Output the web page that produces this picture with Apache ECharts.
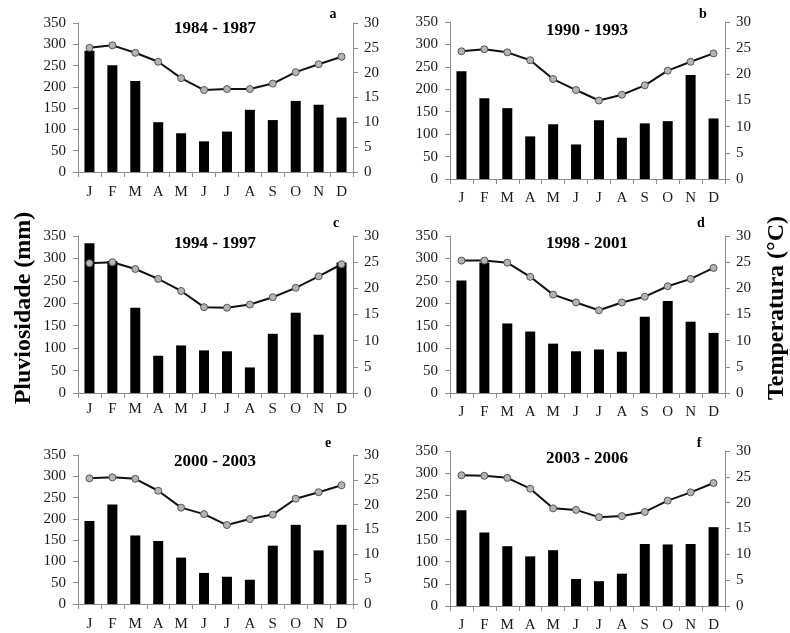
<!DOCTYPE html>
<html>
<head>
<meta charset="utf-8">
<script src="https://cdn.jsdelivr.net/npm/echarts@6/dist/echarts.min.js"></script>
<style>
  html, body { margin: 0; padding: 0; background: #fff; }
  #chart { width: 790px; height: 633px; }
</style>
</head>
<body>
<div id="chart"></div>
<script>
// Monthly rainfall (bars, mm) and mean temperature (line, °C) for six periods
const months = ['J', 'F', 'M', 'A', 'M', 'J', 'J', 'A', 'S', 'O', 'N', 'D'];
const periods = ['1984 - 1987', '1990 - 1993', '1994 - 1997', '1998 - 2001', '2000 - 2003', '2003 - 2006'];
const panelLetters = ['a', 'b', 'c', 'd', 'e', 'f'];

const rain1984 = [285, 251, 214, 117, 91, 72, 95, 146, 122, 167, 158, 128];
const temp1984 = [25.0, 25.5, 24.0, 22.2, 18.9, 16.5, 16.7, 16.7, 17.8, 20.1, 21.7, 23.2];

const rain1990 = [240, 180, 158, 95, 122, 77, 131, 92, 124, 129, 232, 135];
const temp1990 = [24.4, 24.8, 24.2, 22.7, 19.1, 17.0, 15.0, 16.1, 17.9, 20.7, 22.4, 24.0];

const rain1994 = [334, 294, 190, 83, 106, 95, 93, 57, 132, 179, 130, 291];
const temp1994 = [24.8, 25.0, 23.7, 21.8, 19.5, 16.4, 16.3, 16.9, 18.3, 20.1, 22.3, 24.6];

const rain1998 = [251, 291, 155, 137, 110, 93, 97, 92, 170, 205, 159, 134];
const temp1998 = [25.3, 25.3, 24.9, 22.2, 18.8, 17.3, 15.8, 17.3, 18.4, 20.4, 21.8, 23.9];

const rain2000 = [195, 234, 161, 148, 109, 73, 64, 57, 137, 186, 126, 186];
const temp2000 = [25.3, 25.5, 25.2, 22.8, 19.4, 18.1, 15.9, 17.1, 18.0, 21.2, 22.5, 23.9];

const rain2003 = [216, 166, 135, 112, 126, 61, 56, 73, 140, 139, 140, 178];
const temp2003 = [25.3, 25.2, 24.8, 22.7, 18.9, 18.6, 17.2, 17.4, 18.2, 20.4, 22.0, 23.8];

const rainTicks = { min: 0, max: 350, interval: 50 };
const tempTicks = { min: 0, max: 30, interval: 5 };

const rainSeries = [rain1984, rain1990, rain1994, rain1998, rain2000, rain2003];
const tempSeries = [temp1984, temp1990, temp1994, temp1998, temp2000, temp2003];

// panel frames: plot area of each small chart
const frames = [
  { left: 78,  top: 23,  width: 275, height: 149, labelGap: 13 },
  { left: 450, top: 22,  width: 275, height: 157, labelGap: 12 },
  { left: 78,  top: 236, width: 275, height: 157, labelGap: 9 },
  { left: 450, top: 236, width: 275, height: 157, labelGap: 12 },
  { left: 78,  top: 455, width: 275, height: 149, labelGap: 13 },
  { left: 450, top: 451, width: 275, height: 157, labelGap: 12 }
];
const titlePos = [[215, 29], [587, 31], [215, 244], [587, 244], [215, 462], [587, 459]];
const letterPos = [[333, 14], [703, 14], [336, 223], [701, 223], [328, 443], [699, 443]];

const FONT = '"Liberation Serif", "Times New Roman", serif';
const AXIS_GRAY = '#8c8c8c';
const TEXT = '#1a1a1a';

const grid = [], xAxis = [], yAxis = [], series = [], graphic = [];

frames.forEach((f, i) => {
  grid.push({ left: f.left, top: f.top, width: f.width, height: f.height, containLabel: false });
  xAxis.push({
    type: 'category', gridIndex: i, data: months, boundaryGap: true,
    axisLine: { show: true, lineStyle: { color: AXIS_GRAY, width: 1 } },
    axisTick: { show: true, length: 5, alignWithLabel: false, lineStyle: { color: AXIS_GRAY } },
    axisLabel: { margin: f.labelGap, fontFamily: FONT, fontSize: 15, color: TEXT, interval: 0 },
    splitLine: { show: false }
  });
  yAxis.push({
    type: 'value', gridIndex: i, position: 'left',
    min: rainTicks.min, max: rainTicks.max, interval: rainTicks.interval,
    axisLine: { show: true, lineStyle: { color: AXIS_GRAY, width: 1 } },
    axisTick: { show: true, length: 5, lineStyle: { color: AXIS_GRAY } },
    axisLabel: { margin: 12, fontFamily: FONT, fontSize: 15, color: TEXT },
    splitLine: { show: false }
  });
  yAxis.push({
    type: 'value', gridIndex: i, position: 'right',
    min: tempTicks.min, max: tempTicks.max, interval: tempTicks.interval,
    axisLine: { show: true, lineStyle: { color: AXIS_GRAY, width: 1 } },
    axisTick: { show: true, length: 5, lineStyle: { color: AXIS_GRAY } },
    axisLabel: { margin: 11, fontFamily: FONT, fontSize: 15, color: TEXT },
    splitLine: { show: false }
  });
  series.push({
    type: 'bar', name: 'Pluviosidade ' + periods[i],
    xAxisIndex: i, yAxisIndex: 2 * i,
    data: rainSeries[i], barWidth: 10,
    itemStyle: { color: '#000' }, silent: true, z: 2
  });
  series.push({
    type: 'line', name: 'Temperatura ' + periods[i],
    xAxisIndex: i, yAxisIndex: 2 * i + 1,
    data: tempSeries[i],
    symbol: 'circle', symbolSize: 7,
    lineStyle: { color: '#111', width: 2 },
    itemStyle: { color: '#b4b4b4', borderColor: '#555', borderWidth: 1 },
    silent: true, z: 3
  });
  graphic.push({
    type: 'text', x: titlePos[i][0], y: titlePos[i][1],
    style: { text: periods[i], font: 'bold 17px ' + FONT, fill: '#000', textAlign: 'center', textVerticalAlign: 'middle' }
  });
  graphic.push({
    type: 'text', x: letterPos[i][0], y: letterPos[i][1],
    style: { text: panelLetters[i], font: 'bold 14px ' + FONT, fill: '#000', textAlign: 'center', textVerticalAlign: 'middle' }
  });
});

// shared axis titles, read bottom to top
graphic.push({
  type: 'text', x: 24, y: 308, rotation: Math.PI / 2,
  style: { text: 'Pluviosidade (mm)', font: 'bold 24px ' + FONT, fill: '#000', textAlign: 'center', textVerticalAlign: 'middle' }
});
graphic.push({
  type: 'text', x: 777, y: 308, rotation: Math.PI / 2,
  style: { text: 'Temperatura (°C)', font: 'bold 24px ' + FONT, fill: '#000', textAlign: 'center', textVerticalAlign: 'middle' }
});

const chart = echarts.init(document.getElementById('chart'), null, { renderer: 'canvas' });
chart.setOption({
  animation: false,
  backgroundColor: '#fff',
  grid, xAxis, yAxis, series, graphic
});
</script>
</body>
</html>
